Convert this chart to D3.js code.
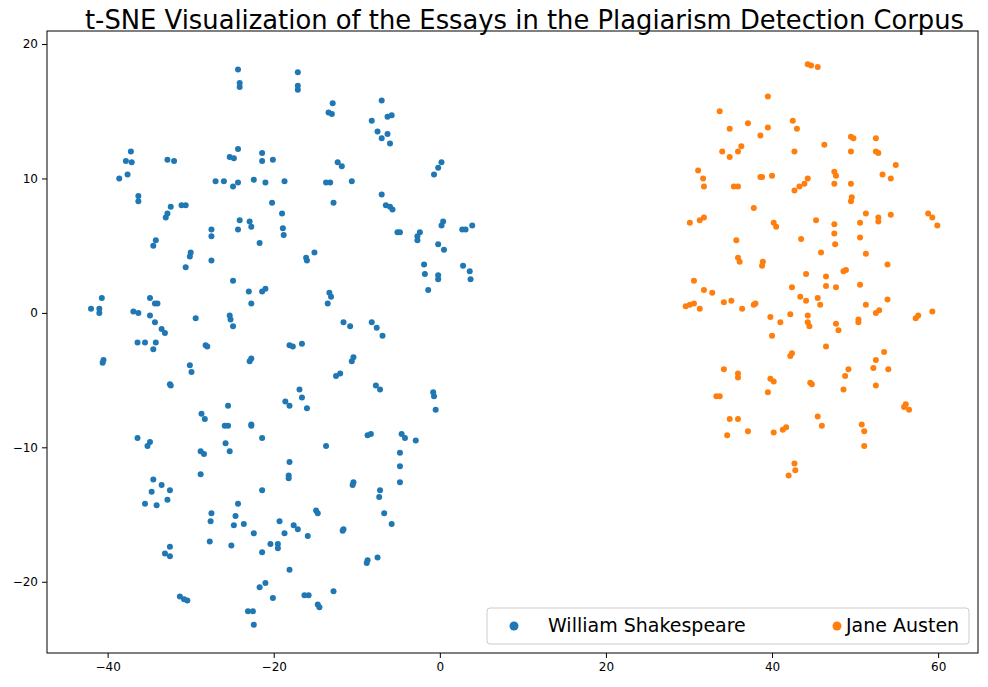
<!DOCTYPE html>
<html><head><meta charset="utf-8">
<script src="https://cdn.jsdelivr.net/npm/d3@7"></script>
<style>body{margin:0;background:#fff;font-family:"DejaVu Sans",sans-serif;}</style>
</head><body><svg id="c" width="988" height="687"></svg>
<script>
const seriesNames = ["William Shakespeare","Jane Austen"];
const colors = ["#1f77b4","#ff7f0e"];
const xTicks = [-40,-20,0,20,40,60];
const yTicks = [-20,-10,0,10,20];
const shakespeare = [[-24.3,18.1],[-24.1,17.1],[-24.1,16.8],[-17.1,17.9],[-17.1,16.9],[-17.1,16.6],[-12.9,15.6],[-13.4,14.9],[-13.0,14.8],[-7,15.8],[-8.2,14.3],[-7.5,13.5],[-7,13],[-6.3,13.3],[-6.3,14.6],[-5.8,14.7],[-6,12.6],[-37.2,12],[-37.8,11.3],[-37.1,11.2],[-37.6,10.3],[-38.6,10],[-32.8,11.4],[-32,11.3],[-24.3,12.2],[-25.3,11.6],[-24.8,11.5],[-21.4,11.9],[-21.4,11.3],[-20.1,11.4],[-12.3,11.2],[-11.8,10.9],[0.2,11.2],[-0.2,10.8],[-0.7,10.3],[-36.3,8.7],[-36.3,8.3],[-32.4,7.9],[-32.8,7.4],[-33,7.1],[-31.1,8],[-30.6,8],[-27,9.8],[-26,9.8],[-24.9,9.4],[-24.3,9.7],[-22.4,9.9],[-21,9.7],[-18.7,9.8],[-13.7,9.7],[-13.2,9.7],[-10.6,9.8],[-12.8,8.2],[-7,8.8],[-6.5,8],[-6,7.9],[-5.7,7.7],[-34.2,5.4],[-34.5,5],[-27.5,6.2],[-27.5,5.7],[-27.5,3.9],[-30,4.5],[-30.1,4.2],[-30.6,3.4],[-24.1,6.9],[-24.3,6.2],[-22.9,6.8],[-22.7,6.4],[-20.2,8.2],[-21.7,5.2],[-19,7.4],[-18.9,6.3],[-18.8,5.8],[-15.1,4.5],[-16.1,4.1],[-16,3.9],[-5.1,6],[-4.8,6],[-2.4,6],[-2.7,5.7],[-2.7,5.4],[0.2,6.5],[0.4,6.8],[-0.2,5.1],[0.5,4.7],[2.7,6.2],[3.1,6.2],[3.9,6.5],[-1.9,3.6],[-1.8,2.9],[-0.2,2.8],[-0.2,2.5],[-1.4,1.7],[2.8,3.5],[3.6,3.1],[3.7,2.5],[-24.9,2.4],[-23,1.6],[-21.4,1.6],[-21,1.8],[-22.7,0.7],[-42,0.3],[-40.7,1.1],[-41,0.3],[-41,0],[-40.5,-3.5],[-40.6,-3.7],[-36.9,0.1],[-36.3,0],[-34.9,1.1],[-34.3,0.7],[-34,0.7],[-34.9,-0.2],[-34.3,-0.7],[-33.5,-1.2],[-33.1,-1.5],[-34.2,-2.2],[-34.5,-2.7],[-36.4,-2.2],[-35.5,-2.2],[-29.4,-0.4],[-28.2,-2.4],[-28,-2.5],[-30.1,-3.9],[-29.9,-4.4],[-32.5,-5.3],[-32.4,-5.4],[-25.3,-0.2],[-25.2,-0.5],[-24.9,-1],[-22.7,-3.4],[-22.9,-3.6],[-18.1,-2.4],[-17.7,-2.5],[-16.6,-2.3],[-13.3,1.5],[-13.1,1.2],[-13.5,0.7],[-11.6,-0.7],[-10.8,-1],[-10.4,-3.3],[-10.6,-3.6],[-12,-4.5],[-12.5,-4.7],[-8.2,-0.7],[-7.6,-1.1],[-6.9,-1.7],[-0.8,-5.9],[-0.7,-6.2],[-0.5,-7.2],[-7.7,-5.4],[-7.2,-5.7],[-16.9,-5.7],[-16.6,-6.3],[-16,-7.1],[-18.6,-6.6],[-18.1,-6.9],[-25.5,-6.9],[-25.9,-8.4],[-25.5,-8.4],[-22.7,-8.3],[-22.7,-8.4],[-21.4,-9.3],[-25.8,-9.7],[-25.3,-10.3],[-28.7,-7.5],[-28.3,-7.9],[-28.8,-10.3],[-28.4,-10.5],[-28.8,-12],[-36.4,-9.3],[-34.9,-9.6],[-35.2,-9.9],[-13.7,-9.9],[-8.7,-9.1],[-8.3,-9],[-4.6,-9],[-4.2,-9.3],[-2.9,-9.5],[-4.8,-10.4],[-4.8,-11.4],[-4.8,-12.6],[-10.4,-12.6],[-10.5,-12.8],[-18.1,-11.1],[-18.2,-12.1],[-18.2,-12.3],[-34.5,-12.4],[-33.5,-12.8],[-34.7,-13.3],[-32.5,-13.2],[-32.8,-13.9],[-35.5,-14.2],[-34.1,-14.3],[-21.4,-13.2],[-24.3,-14.2],[-24.6,-15.1],[-24.8,-15.8],[-23.6,-15.7],[-27.5,-14.9],[-27.6,-15.5],[-27.7,-17],[-14.9,-14.7],[-14.7,-14.9],[-7.2,-13.2],[-7.3,-13.7],[-6.7,-14.9],[-5.8,-15.7],[-11.6,-16.1],[-11.7,-16.2],[-19.3,-15.5],[-17.6,-15.8],[-17.1,-16.1],[-15.9,-16.6],[-18.7,-16.4],[-19.5,-17.2],[-18.1,-19.1],[-22.4,-16.4],[-20.4,-17.2],[-21.4,-17.8],[-19.5,-17.5],[-25.1,-17.3],[-7.5,-18.2],[-8.7,-18.4],[-8.8,-18.6],[-33.1,-17.9],[-32.5,-18.1],[-32.5,-17.4],[-21,-20.1],[-21.7,-20.4],[-20.1,-21.2],[-16.3,-21],[-15.8,-21],[-12.8,-20.7],[-14.7,-21.7],[-14.5,-21.9],[-31.3,-21.1],[-30.8,-21.3],[-30.4,-21.4],[-23.1,-22.2],[-22.5,-22.2],[-22.4,-23.2]];
const austen = [[44.3,18.5],[44.7,18.4],[45.5,18.3],[39.5,16.1],[33.7,15],[37.1,14.1],[42.5,14.3],[43,13.7],[39.5,13.8],[34.9,13.7],[36.3,12.4],[35.9,12],[34,12],[34.9,11.6],[38.6,13.2],[46.3,12.5],[42.7,12],[49.5,12],[49.8,13],[49.5,13.1],[52.5,13],[52.5,12],[52.8,11.9],[54.9,11],[53.3,10.3],[54.3,10],[47.5,10.5],[47.7,10.2],[47.5,9.6],[44.3,10],[43.9,9.6],[43.3,9.4],[42.7,9.1],[49.5,9.6],[31.1,10.6],[31.7,10],[31.8,9.4],[38.6,10.1],[38.8,10.1],[40,10.2],[35.4,9.4],[35.9,9.4],[37.8,7.8],[49.6,8.6],[49.5,8.3],[45.3,6.9],[47.5,6.6],[50.6,6.7],[51.3,7.4],[52.8,7.1],[52.8,6.8],[54.3,7.3],[58.8,7.4],[59.3,7.1],[59.9,6.5],[31.8,7.1],[31.3,6.9],[30.1,6.7],[40.2,6.7],[40.5,6.4],[43.5,5.5],[47.5,5.9],[47.6,5.1],[45.9,4.5],[50.6,5.6],[51.3,4.4],[35.7,5.4],[35.9,4.1],[36.1,3.8],[38.9,3.8],[38.8,3.5],[36.4,0.3],[37.8,0.6],[38,0.7],[30.6,2.4],[30.1,0.6],[30.6,0.7],[29.6,0.5],[31.3,0.3],[31.8,1.7],[32.8,1.5],[34.2,0.8],[35.1,0.9],[44.1,2.9],[43.4,1.2],[44.1,0.9],[45.5,1.1],[46.5,2.7],[46.5,2],[48.6,3.1],[48.9,3.2],[47.7,1.9],[50.6,2.1],[53.9,3.6],[53.9,1],[52.9,0.2],[52.5,0],[51.3,0.6],[45.8,0.6],[42.4,1.9],[39.8,-0.3],[41,-0.7],[42.2,-0.1],[44.3,-0.2],[44.3,-0.7],[44.5,-1],[47.7,-0.8],[48,-1.3],[50.4,-0.7],[50.4,-0.5],[57.6,-0.2],[57.3,-0.4],[59.3,0.1],[40,-1.7],[46.5,-2.5],[53.5,-2.9],[42.4,-3],[42.2,-3.2],[52.5,-3.5],[52.2,-4.1],[54,-4.2],[49.2,-4.2],[48.8,-4.7],[34.2,-4.2],[35.9,-4.5],[35.9,-4.8],[39.8,-4.9],[40.2,-5.1],[44.6,-5.2],[44.8,-5.3],[48.6,-5.7],[52.5,-5.4],[39.5,-5.9],[33.7,-6.2],[33.3,-6.2],[34.9,-7.9],[35.9,-7.9],[45.5,-7.7],[56.1,-6.8],[56.5,-7.2],[55.9,-7],[34.6,-9.1],[37.1,-8.8],[40.2,-8.9],[41.7,-8.5],[41.3,-8.7],[46,-8.4],[50.8,-8.3],[51.1,-8.8],[51.1,-9.9],[42.7,-11.2],[42.8,-11.7],[42,-12.1]];
const series = [shakespeare, austen];

const svg = d3.select("#c");
const L=47,R=978,T=31,B=653;
const x = d3.scaleLinear().domain([-47.3,64.8]).range([L,R]);
const y = d3.scaleLinear().domain([-25.3,20.97]).range([B,T]);

svg.append("g").attr("transform",`translate(0,${B})`)
  .call(d3.axisBottom(x).tickValues(xTicks).tickSize(5).tickPadding(4))
  .call(g=>g.select(".domain").remove())
  .selectAll("text").attr("font-size",12).attr("font-family","DejaVu Sans").attr("fill","#000");
svg.append("g").attr("transform",`translate(${L},0)`)
  .call(d3.axisLeft(y).tickValues(yTicks).tickSize(5).tickPadding(4))
  .call(g=>g.select(".domain").remove())
  .selectAll("text").attr("font-size",12).attr("font-family","DejaVu Sans").attr("fill","#000");
svg.selectAll(".tick line").attr("stroke","#000");

series.forEach((s,i)=>{
  svg.append("g").selectAll("circle").data(s).join("circle")
    .attr("cx",d=>x(d[0])).attr("cy",d=>y(d[1])).attr("r",3).attr("fill",colors[i]);
});

svg.append("rect").attr("x",L).attr("y",T).attr("width",R-L).attr("height",B-T)
  .attr("fill","none").attr("stroke","#000").attr("stroke-width",1);

svg.append("text").attr("x",(L+R)/2+12).attr("y",29).attr("text-anchor","middle")
  .attr("font-size",25.8).text("t-SNE Visualization of the Essays in the Plagiarism Detection Corpus");

const lg = svg.append("g");
lg.append("rect").attr("x",487).attr("y",608).attr("width",482).attr("height",36).attr("rx",3)
  .attr("fill","#fff").attr("fill-opacity",0.8).attr("stroke","#ccc");
const lx=[514,837], tx=[548,846];
seriesNames.forEach((n,i)=>{
  lg.append("circle").attr("cx",lx[i]).attr("cy",626).attr("r",4.5).attr("fill",colors[i]);
  lg.append("text").attr("x",tx[i]).attr("y",632).attr("font-size",19).text(n);
});
</script></body></html>
